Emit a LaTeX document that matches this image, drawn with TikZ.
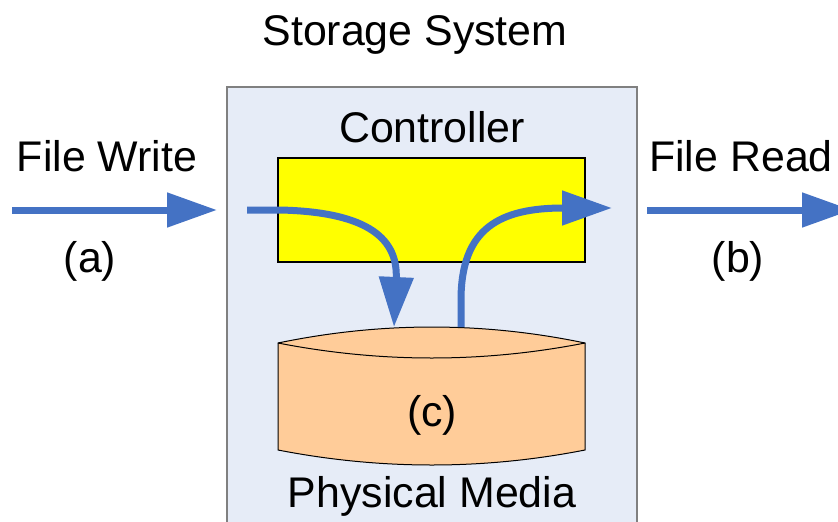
\documentclass[tikz,border=0pt]{standalone}
\usepackage[HTML]{xcolor}
\usepackage{fontspec}
\setmainfont{Liberation Sans}
\usepackage{tikz}
\usetikzlibrary{positioning, arrows.meta}

\definecolor{flowblue}{HTML}{4472C4}
\definecolor{sysfill}{HTML}{E6ECF7}
\definecolor{mediafill}{HTML}{FFCC99}

\tikzset{
  lbl/.style={anchor=base, font=\fontsize{36.6}{44}\selectfont},
  flow/.style={draw=flowblue, line width=2.1mm,
    -{Triangle[length=15mm, width=10mm]}},
}

\begin{document}
\begin{tikzpicture}[x=0.3mm, y=-0.3mm]
\useasboundingbox (0,0) rectangle (838,521);
\clip (0,0) rectangle (838,521);

% storage system box
\draw[fill=sysfill, draw=black!50, line width=0.6mm] (227,87) rectangle (637,560);
\node[lbl] (title) at (415,46) {Storage System};

% controller
\node[draw=black, fill=yellow, line width=0.45mm, minimum width=92.1mm, minimum height=31.2mm, inner sep=0pt] (ctrl) at (431.5,210) {};
\node[lbl] (ctrltext) at (432,142) {Controller};

% physical media (cylinder)
\coordinate (mtopl) at (278,343); \coordinate (mtopr) at (585,343);
\coordinate (mbotl) at (278,450); \coordinate (mbotr) at (585,450);
\draw[fill=mediafill, line width=0.3mm] (mtopl) .. controls (380.7,321.7) and (483,321.7) .. (mtopr) -- (mbotr) .. controls (483,470) and (380.7,470) .. (mbotl) -- cycle;
\draw[line width=0.3mm] (mtopl) .. controls (380.7,363) and (483,363) .. (mtopr);
\node[lbl] (c) at (432,426) {(c)};
\node[lbl] (mediatext) at (432,507) {Physical Media};

% write side
\coordinate (win) at (12,210); \coordinate (wout) at (217,210);
\draw[flow] (win) -- (wout);
\node[lbl] (writetext) at (107,171) {File Write};
\node[lbl] (a) at (90,272) {(a)};

% read side
\coordinate (rin) at (647,210); \coordinate (rout) at (852,210);
\draw[flow] (rin) -- (rout);
\node[lbl] (readtext) at (741,171) {File Read};
\node[lbl] (b) at (738,272) {(b)};

% paths through the controller
\coordinate (wstart) at (247,210); \coordinate (wmedia) at (394,327);
\draw[flow] (wstart) -- (280,210) .. controls (370,212) and (398,240) .. (wmedia);
\coordinate (rmedia) at (461,327); \coordinate (rend) at (612,208);
\draw[flow] (rmedia) -- (461,300) .. controls (461,228) and (500,208) .. (rend);
\end{tikzpicture}
\end{document}
